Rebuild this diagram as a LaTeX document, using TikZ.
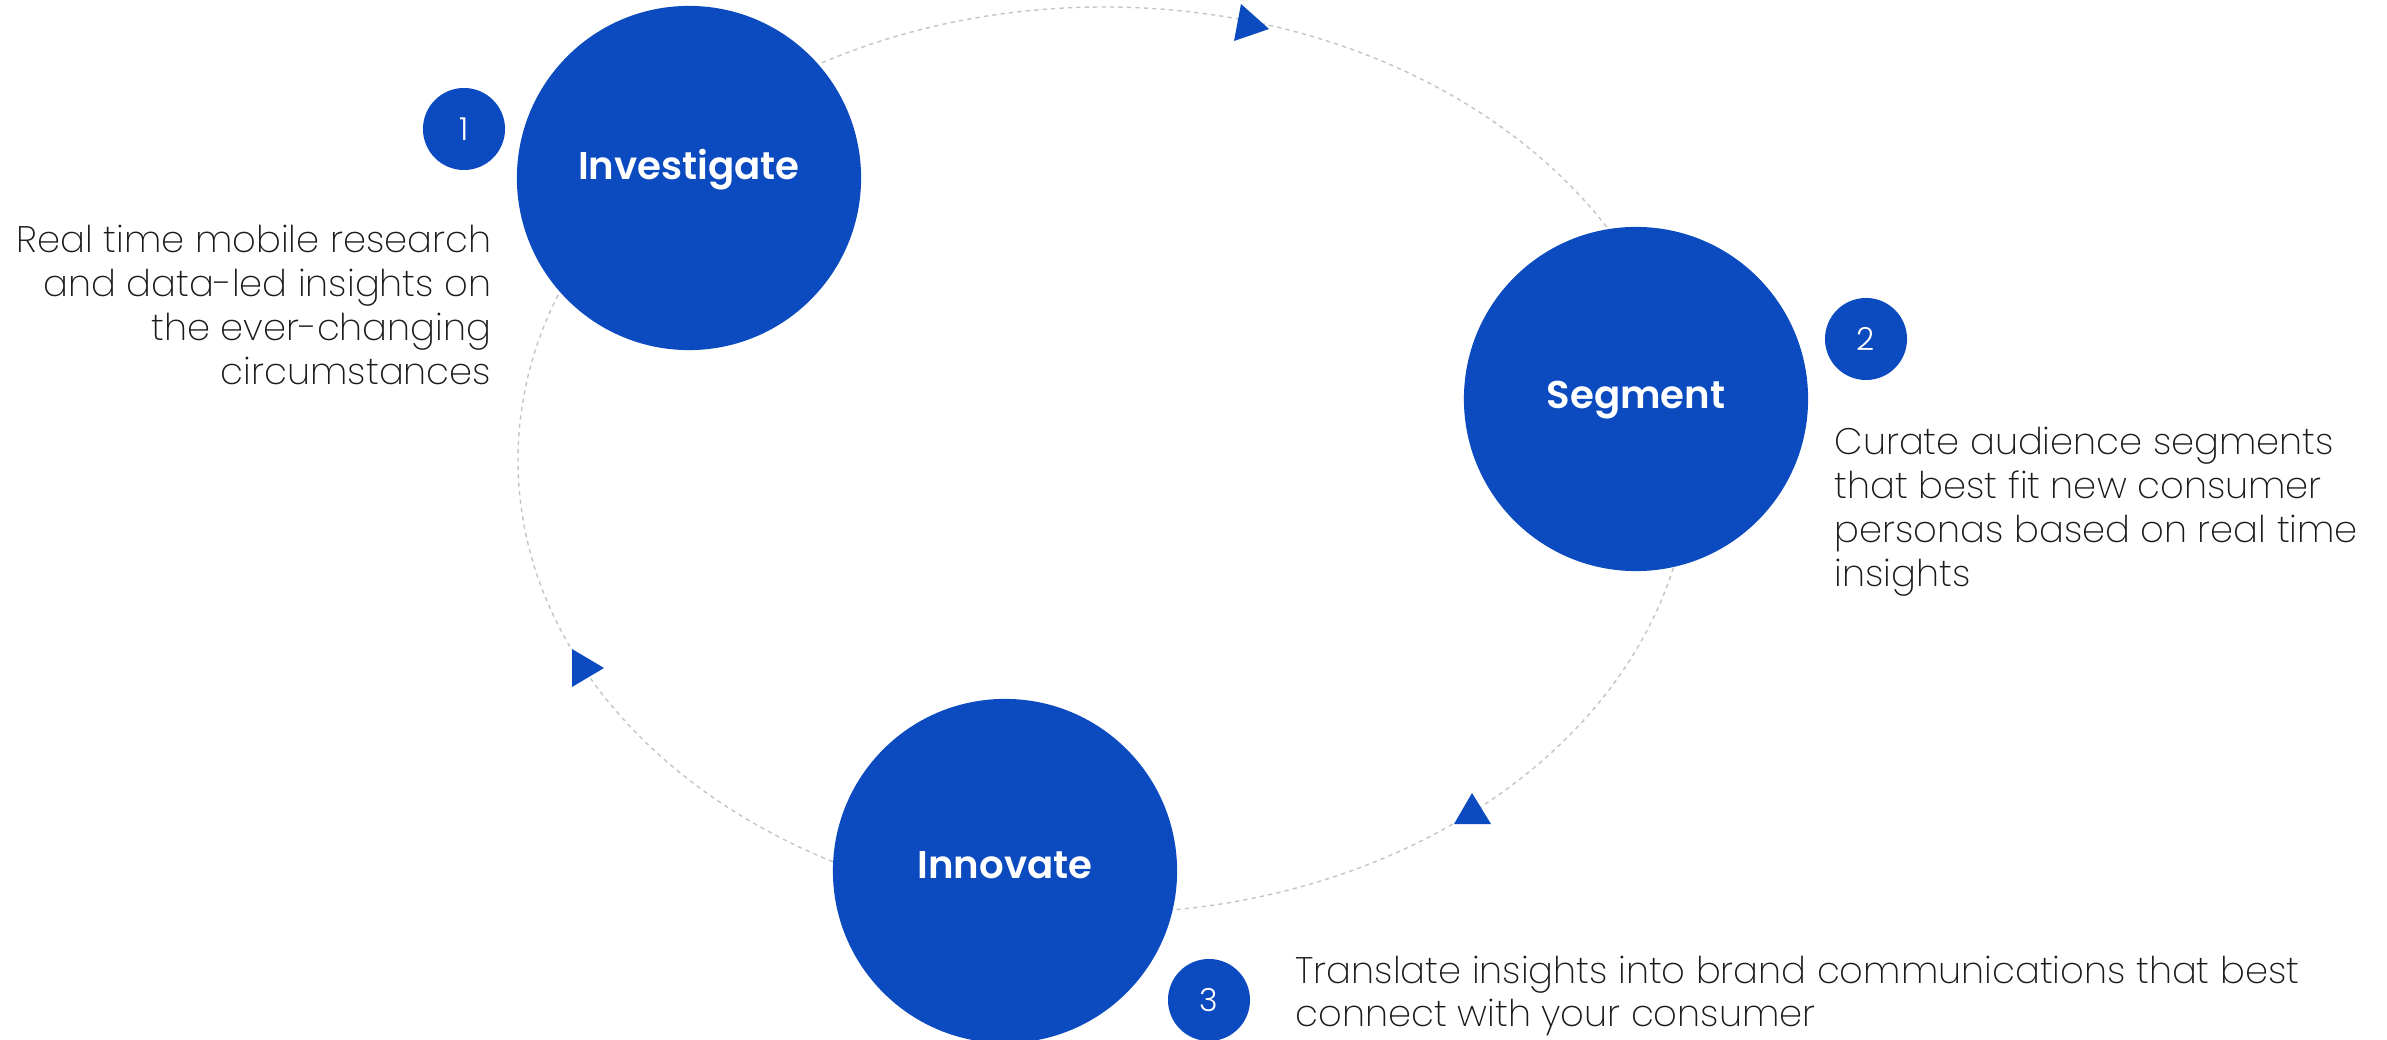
\documentclass[tikz,border=0pt]{standalone}
\usepackage{fontspec}
\setmainfont{Poppins}[UprightFont=* ExtraLight, BoldFont=* SemiBold]
\newfontfamily\badgefont{Poppins}[UprightFont=* Light]
\definecolor{brandblue}{HTML}{0B4ABF}
\definecolor{copytext}{HTML}{1A1A1A}
\definecolor{track}{HTML}{C4C4C4}

\tikzset{
  stage/.style={circle, fill=brandblue, minimum size=3.44cm, inner sep=0pt},
  stagetext/.style={inner sep=0pt, text height=0.7em, text depth=0pt, text=white, font=\bfseries\fontsize{11}{13}\selectfont},
  badge/.style={circle, fill=brandblue, minimum size=0.82cm, inner sep=0pt, text=white, font=\badgefont\fontsize{9}{10}\selectfont},
  blurb/.style={text=copytext, inner sep=0pt, font=\fontsize{10.5}{12.5}\selectfont},
}

\begin{document}
\begin{tikzpicture}[x=0.01cm, y=-0.01cm]
		%%%%% START %%%%%
		\useasboundingbox (0, 0) rectangle (2387, 1040);
		
		% dotted loop behind the stages
		\draw[track, line width=0.4pt, dash pattern=on 1.2pt off 1.2pt] (1104, 460) ellipse [x radius=586, y radius=453];
		
		% direction marks on the loop
		\fill[brandblue] (1241, 4) -- (1269, 29) -- (1234, 41) -- cycle;
		\fill[brandblue] (572, 649) -- (604, 668) -- (572, 687) -- cycle;
		\fill[brandblue] (1472, 793) -- (1491, 824) -- (1454, 824) -- cycle;
		
		% stages
		\node[stage] (investigate) at (689, 178) {};
		\node[stage] (segment) at (1636, 399) {};
		\node[stage] (innovate) at (1005, 871) {};
		\node[stagetext] at ([yshift=0.11cm]investigate.center) {Investigate};
		\node[stagetext] at ([yshift=0.03cm]segment.center) {Segment};
		\node[stagetext] at ([yshift=0.05cm]innovate.center) {Innovate};
		
		% step numbers
		\node[badge] (num1) at (464, 129) {1};
		\node[badge] (num2) at (1866, 339) {2};
		\node[badge] (num3) at (1209, 1000) {3};
		
		% descriptions
		\node[blurb, anchor=east, align=right] (txt1) at (492, 305) {Real time mobile research\\and data-led insights on\\the ever-changing\\circumstances};
		\node[blurb, anchor=west, align=left] (txt2) at (1834, 512) {Curate audience segments\\that best fit new consumer\\personas based on real time\\insights};
		\node[blurb, anchor=west, align=left] (txt3) at (1295, 996) {Translate insights into brand communications that best\\connect with your consumer};
		
		%%%%% END %%%%%
	\end{tikzpicture}
\end{document}
